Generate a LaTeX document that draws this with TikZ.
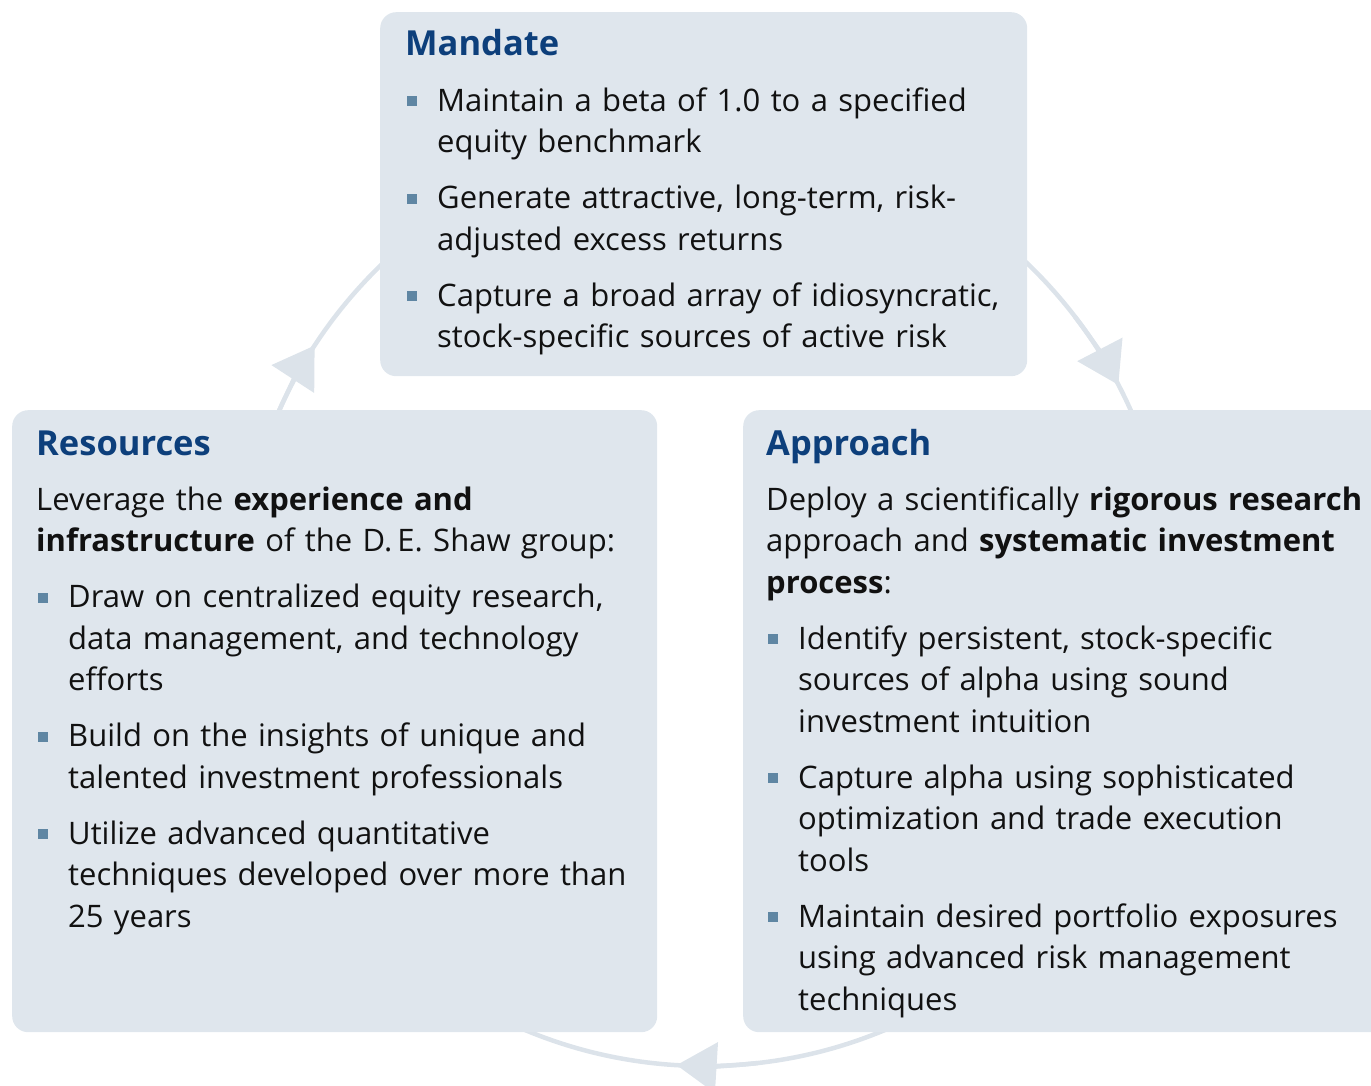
\documentclass[tikz,border=0pt]{standalone}
\usepackage{fontspec}
\setmainfont{Open Sans}
\usepackage{xcolor}
\usetikzlibrary{arrows.meta}

\definecolor{panelfill}{HTML}{DFE6ED}
\definecolor{ringgray}{HTML}{DCE3EA}
\definecolor{headblue}{HTML}{0D3F7B}
\definecolor{bulletblue}{HTML}{5F86A3}
\definecolor{bodyblack}{HTML}{111111}

\newcommand{\pointsq}{\textcolor{bulletblue}{\rule[5pt]{10pt}{10pt}}}
\newcommand{\heading}[1]{\noindent\rule{0pt}{40pt}{\fontsize{34.5}{40}\selectfont\bfseries\color{headblue}#1}}
\newcommand{\keypoint}[1]{\par\vspace{14.5pt}\hangindent=32pt\hangafter=1\noindent\hspace*{2pt}\makebox[30pt][l]{\pointsq}#1}

\tikzset{
  panel/.style={fill=panelfill, rounded corners=16pt, inner sep=0pt, anchor=north west},
  textblock/.style={text width=660pt, align=left, inner sep=0pt, anchor=north west,
    text=bodyblack, font=\fontsize{31}{41.5}\selectfont},
  ring/.style={draw=ringgray, line width=4.5pt},
  ringtip/.style={ring, -{Triangle[length=40pt,width=50pt]}}
}

\begin{document}
\begin{tikzpicture}[x=1pt,y=1pt]
  \useasboundingbox (0,0) rectangle (1371,-1086);
  % cycle behind the panels
  \coordinate (hub) at (705,-600);
  \draw[ring] (hub) circle[radius=466pt];
  \draw[ringtip] (hub) ++(157:466pt) arc[start angle=157, end angle=146.9, radius=466pt];
  \draw[ringtip] (hub) ++(37.5:466pt) arc[start angle=37.5, end angle=27.5, radius=466pt];
  \draw[ringtip] (hub) ++(276.5:466pt) arc[start angle=276.5, end angle=266.5, radius=466pt];
  % panels
  \node[panel, minimum width=647pt, minimum height=364pt] (mandatebox) at (380,-12) {};
  \node[panel, minimum width=645pt, minimum height=622pt] (resourcesbox) at (12,-410) {};
  \node[panel, minimum width=660pt, minimum height=622pt] (approachbox) at (743,-410) {};
  % texts
  \node[textblock] (mandate) at (405,-15) {\heading{Mandate}
    \keypoint{Maintain a beta of 1.0 to a specified\newline equity benchmark}
    \keypoint{Generate attractive, long-term, risk-\newline adjusted excess returns}
    \keypoint{Capture a broad array of idiosyncratic,\newline stock-specific sources of active risk}\par};
  \node[textblock] (resources) at (36,-415) {\heading{Resources}\par\vspace{13.5pt}
    \noindent Leverage the \textbf{experience and}\newline \textbf{infrastructure} of the D.\,E. Shaw group:
    \keypoint{Draw on centralized equity research,\newline data management, and technology\newline efforts}
    \keypoint{Build on the insights of unique and\newline talented investment professionals}
    \keypoint{Utilize advanced quantitative\newline techniques developed over more than\newline 25 years}\par};
  \node[textblock] (approach) at (766,-415) {\heading{Approach}\par\vspace{13.5pt}
    \noindent Deploy a scientifically \textbf{rigorous research}\newline approach and \textbf{systematic investment}\newline \textbf{process}:
    \keypoint{Identify persistent, stock-specific\newline sources of alpha using sound\newline investment intuition}
    \keypoint{Capture alpha using sophisticated\newline optimization and trade execution\newline tools}
    \keypoint{Maintain desired portfolio exposures\newline using advanced risk management\newline techniques}\par};
\end{tikzpicture}
\end{document}
